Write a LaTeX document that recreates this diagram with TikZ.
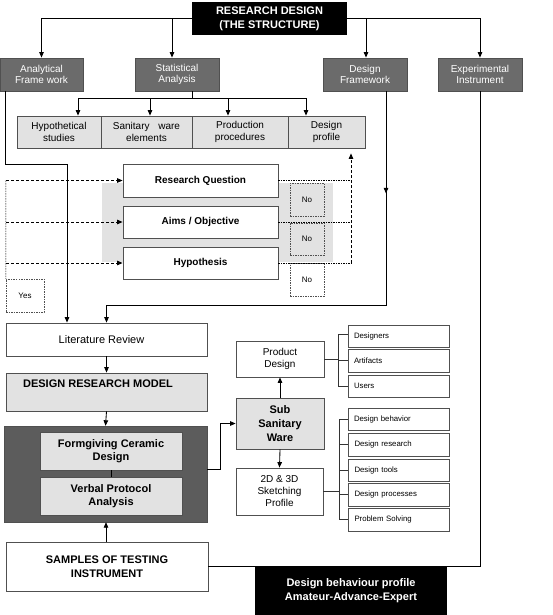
\documentclass[tikz,border=0pt]{standalone}
\usepackage{fontspec}
\setmainfont{Liberation Sans}
\usetikzlibrary{arrows.meta,calc}
\definecolor{dgray}{HTML}{6B6B6B}
\definecolor{dbox}{HTML}{5C5C5C}
\definecolor{lgray}{HTML}{E2E2E2}
\definecolor{bord}{HTML}{505050}
\begin{document}
\begin{tikzpicture}[x=1pt,y=-1pt,
 box/.style={draw=bord, line width=0.8pt, inner sep=1pt, align=center, font=\fontsize{10}{11.8}\selectfont},
 hdr/.style={box, fill=dgray, text=white},
 lbox/.style={box, fill=lgray},
 wbox/.style={box, fill=white},
 bigb/.style={font=\bfseries\fontsize{11}{13.5}\selectfont},
 blk/.style={fill=black, text=white, align=center, font=\bfseries\fontsize{11}{13.8}\selectfont, inner sep=0pt},
 dbx/.style={draw=bord, line width=0.5pt, dash pattern=on 1.5pt off 1pt, font=\fontsize{8}{9}\selectfont, inner sep=0pt},
 lst/.style={draw=bord, line width=0.8pt, text width=89pt, align=left, inner xsep=6pt, inner ysep=0pt, font=\fontsize{7.8}{9}\selectfont},
 ln/.style={line width=0.85pt},
 brk/.style={line width=0.6pt, draw=black!80},
 arr/.style={ln, -{Triangle[length=5.5pt,width=4.5pt]}},
 darr/.style={ln, dash pattern=on 3pt off 2pt, -{Triangle[length=5.5pt,width=4.5pt]}},
 dotl/.style={line width=0.5pt, dash pattern=on 1.5pt off 1pt},
]
\fill[white] (0,0) rectangle (553,615);
\useasboundingbox (0,0) rectangle (553,615);

% gray band behind research questions
\fill[lgray] (102,183) rectangle (333,262);

% top
\node[blk, minimum width=155pt, minimum height=33pt] (top) at (269.5,18.5) {RESEARCH DESIGN\\(THE STRUCTURE)};
\node[hdr, minimum width=83pt, minimum height=33pt] (af) at (41.5,74.5) {Analytical\\Frame work};
\node[hdr, minimum width=84pt, minimum height=33pt] (sa) at (177,74.5) {Statistical\\Analysis};
\node[hdr, minimum width=84pt, minimum height=33pt] (df) at (365,74.5) {Design\\Framework};
\node[hdr, minimum width=84pt, minimum height=33pt] (ei) at (480,74.5) {Experimental\\Instrument};

% row
\node[lbox, minimum width=84pt, minimum height=32pt] (hs) at (59,132) {Hypothetical\\studies};
\node[lbox, minimum width=91pt, minimum height=32pt] (sw) at (146.5,132) {Sanitary\hspace{6pt} ware\\elements};
\node[lbox, minimum width=96pt, minimum height=32pt] (pp) at (240,132) {Production\\procedures};
\node[lbox, minimum width=77pt, minimum height=32pt] (dp) at (326.5,132) {Design\\profile};

% research boxes
\node[wbox, font=\bfseries\fontsize{10}{12}\selectfont, minimum width=155pt, minimum height=33pt] (rq) at (200.5,180.5) {Research Question};
\node[wbox, font=\bfseries\fontsize{10}{12}\selectfont, minimum width=155pt, minimum height=32pt] (ao) at (200.5,222) {Aims / Objective};
\node[wbox, font=\bfseries\fontsize{10}{12}\selectfont, minimum width=155pt, minimum height=32pt] (hy) at (200.5,263) {Hypothesis};
\node[dbx, minimum width=34pt, minimum height=33pt] (n1) at (307,199.5) {No};
\node[dbx, minimum width=34pt, minimum height=32pt] (n2) at (307,239) {No};
\node[dbx, minimum width=34pt, minimum height=33pt] (n3) at (307,279.5) {No};
\node[dbx, minimum width=38pt, minimum height=33pt] (yes) at (25,295.5) {Yes};

% left column
\node[wbox, font=\fontsize{11}{13}\selectfont, minimum width=201pt, minimum height=33pt] (lr) at (106.5,339.5) {\hspace{-10pt}Literature Review};
\node[lbox, minimum width=201pt, minimum height=38pt,
  label={[anchor=north, xshift=-8.5pt, yshift=-4pt, font=\bfseries\fontsize{11}{13}\selectfont]north:DESIGN RESEARCH MODEL}] (drm) at (106.5,392) {};
\node[fill=dbox, draw=bord, minimum width=203pt, minimum height=96pt, inner sep=0pt] (dk) at (105.5,474) {};
\node[lbox, bigb, minimum width=142pt, minimum height=38pt] (fc) at (111,451) {Formgiving Ceramic\\Design};
\node[lbox, bigb, minimum width=142pt, minimum height=38pt] (vp) at (111,496) {Verbal Protocol\\Analysis};
\node[wbox, font=\bfseries\fontsize{11}{14}\selectfont, minimum width=202pt, minimum height=49pt] (sm) at (107,566.5) {SAMPLES OF TESTING\\INSTRUMENT};

% middle column
\node[lbox, font=\bfseries\fontsize{11}{14}\selectfont, minimum width=88pt, minimum height=51pt] (ssw) at (280,423.5) {Sub\\Sanitary\\Ware};
\node[wbox, minimum width=88pt, minimum height=36pt] (pd) at (280,359) {Product\\Design};
\node[wbox, font=\fontsize{10}{12}\selectfont, minimum width=87pt, minimum height=47pt] (sk) at (279.5,491.5) {2D \& 3D\\Sketching\\Profile};

% lists
\node[lst, minimum height=22pt] (des) at (398.5,336) {Designers};
\node[lst, minimum height=23pt] (art) at (398.5,360.5) {Artifacts};
\node[lst, minimum height=22pt] (usr) at (398.5,386) {Users};
\node[lst, minimum height=22pt] (db) at (398.5,419) {Design behavior};
\node[lst, minimum height=23pt] (dr) at (399,444.5) {Design research};
\node[lst, minimum height=22pt] (dt) at (399,470) {Design tools};
\node[lst, minimum height=23pt] (dpr) at (399,494.5) {Design processes};
\node[lst, minimum height=23pt] (ps) at (399,519.5) {Problem Solving};

% connectors from top
\draw[arr] (top.west) -| (af.north);
\draw[arr] (top.west) -| ([xshift=-5pt]sa.north);
\draw[arr] (top.east) -| ([xshift=1pt]df.north);
\draw[arr] (top.east) -| (ei.north);

% bus to row
\coordinate (bus) at (192,98);
\draw[ln] ([xshift=15pt]sa.south) -- (bus);
\draw[arr] (bus) -| ([xshift=19pt]hs.north);
\draw[arr] (bus) -| ([xshift=3.5pt]sw.north);
\draw[arr] (bus) -| ([xshift=-12pt]pp.north);
\draw[arr] (bus) -| ([xshift=-20.5pt]dp.north);

% dashed left
\coordinate (lx) at (6,180.5);
\draw[dotl] (lx) -- (yes.north west);
\draw[darr] (lx |- rq.west) -- (rq.west);
\draw[darr] (lx |- ao.west) -- (ao.west);
\draw[darr] (lx |- hy.west) -- (hy.west);

% dotted right
\coordinate (rx) at (351,0);
\draw[dotl] (rq.east) -- (rq.east -| rx);
\draw[dotl] (ao.east) -- (ao.east -| rx);
\draw[dotl] (hy.east) -- (hy.east -| rx);
\draw[darr] (hy.east -| rx) -- ([yshift=-5pt]dp.south -| rx);

% solid lines to literature review
\draw[arr] ([xshift=6pt]af.south west) -- ++(0,73) -| ([xshift=-39.5pt]lr.north);
\draw[arr] ([xshift=21pt]df.south) -- ++(0,102);
\draw[arr] ([xshift=21pt]df.south) -- ++(0,214) -| (lr.north);

% left column flow
\draw[arr] (lr.south) -- (drm.north);
\draw[arr] (drm.south) -- (dk.north);
\draw[ln] (fc.south) -- (vp.north);
\draw[arr] ([xshift=-1pt]sm.north) -- ([xshift=0.5pt]dk.south);

% experimental instrument line
\draw[ln] (ei.south) |- (sm.east);
\node[blk, minimum width=192pt, minimum height=49pt] (dbp) at (351,590.5) {Design behaviour profile\\Amateur-Advance-Expert};

% middle flow
\draw[arr] ([yshift=5pt]dk.east) -- ++(13,0) |- (ssw.west);
\draw[arr] (ssw.north) -- (pd.south);
\draw[arr] (ssw.south) -- (sk.north);

% brackets
\coordinate (b1) at (338,0);
\coordinate (b2) at (339,0);
\draw[brk] (pd.east) -- (pd.east -| b1);
\draw[brk] ([yshift=2pt]des.west) -| (b1 |- usr.west) -- (usr.west);
\draw[brk] (art.west) -- (art.west -| b1);
\draw[brk] (db.west) -| (b2 |- ps.west) -- (ps.west);
\draw[brk] (dr.west) -- (dr.west -| b2);
\draw[brk] (dt.west) -- (dt.west -| b2);
\draw[brk] (dpr.west) -- (dpr.west -| b2);
\draw[brk] (sk.east) -- (sk.east -| b2);
\end{tikzpicture}
\end{document}
